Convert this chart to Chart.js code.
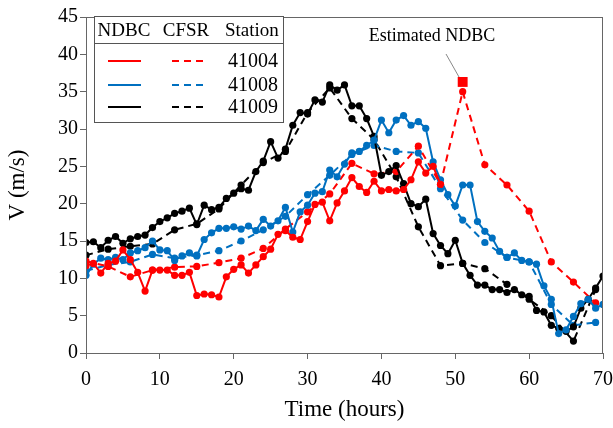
<!DOCTYPE html>
<html>
<head>
<meta charset="utf-8">
<script src="https://cdn.jsdelivr.net/npm/chart.js@4.4.1/dist/chart.umd.min.js"></script>
<style>
  html, body { margin: 0; padding: 0; background: #fff; }
</style>
</head>
<body>
<canvas id="windChart" width="613" height="428"></canvas>
<script>
// Horas de las series NDBC (horarias) y CFSR (cada 3 h)
const ndbcHours = [0, 1, 2, 3, 4, 5, 6, 7, 8, 9, 10, 11, 12, 13, 14, 15, 16, 17, 18, 19, 20,
  21, 22, 23, 24, 25, 26, 27, 28, 29, 30, 31, 32, 33, 34, 35, 36, 37, 38, 39, 40,
  41, 42, 43, 44, 45, 46, 47, 48, 49, 50, 51, 52, 53, 54, 55, 56, 57, 58, 59, 60,
  61, 62, 63, 64, 65, 66, 67, 68, 69, 70];
const cfsrHours = [0, 3, 6, 9, 12, 15, 18, 21, 24, 27, 30, 33, 36, 39, 42, 45, 48, 51, 54, 57, 60, 63, 66, 69];

// Velocidad del viento (m/s) - NDBC
const ndbc41004 = [11.7, 12.0, 10.7, 12.0, 12.3, 13.8, 12.5, 10.8, 8.3, 11.1, 11.1, 11.1, 10.4, 10.4, 10.8,
  7.7, 7.9, 7.8, 7.5, 10.2, 11.2, 11.8, 10.7, 11.8, 12.9, 13.9, 15.9, 16.4, 15.5, 15.2, 17.6,
  19.9, 20.2, 17.7, 20.1, 21.7, 23.5, 22.3, 21.5, 23.0, 21.7, 21.9, 21.7, 21.9, 23.2, 25.6, 24.1, 25.0, 22.6];
const ndbc41008 = [10.4, 11.9, 12.7, 12.5, 12.8, 12.5, 13.4, 13.7, 14.1, 15.0, 13.8, 13.7, 12.4, 13.0, 13.4,
  13.0, 15.2, 16.1, 16.7, 16.7, 16.9, 16.6, 17.0, 16.4, 17.9, 17.0, 17.7, 19.5, 16.2, 18.9, 19.8,
  21.4, 21.6, 24.5, 23.6, 25.3, 26.8, 27.0, 27.8, 28.5, 31.2, 29.5, 31.2, 31.8, 30.5, 31.0, 30.1,
  25.6, 23.2, 21.2, 19.7, 22.5, 22.5, 17.6, 16.3, 15.4, 13.6, 12.8, 13.4, 12.4, 12.2, 11.9, 9.0,
  7.2, 2.6, 3.1, 4.9, 6.6, 7.2, 6.0, 6.5];
const ndbc41009 = [14.8, 14.9, 14.1, 15.1, 15.6, 14.7, 15.3, 15.6, 15.8, 16.8, 17.6, 18.1, 18.7, 19.0, 19.4,
  17.2, 19.8, 19.2, 19.5, 20.7, 21.4, 22.0, 21.8, 24.3, 25.7, 28.3, 26.1, 27.3, 30.5, 32.2, 32.0,
  33.9, 33.6, 35.9, 35.2, 35.9, 33.1, 33.1, 31.4, 29.0, 23.8, 24.3, 25.1, 22.7, 20.0, 19.6, 20.6,
  16.0, 14.4, 13.3, 15.1, 12.0, 10.4, 9.1, 9.1, 8.5, 8.5, 8.1, 8.5, 7.8, 7.6, 5.7, 5.5,
  3.7, 3.3, 2.9, 3.5, 6.0, 7.2, 8.7, 10.3];

// Velocidad del viento (m/s) - CFSR
const cfsr41004 = [12.3, 11.6, 10.2, 11.1, 11.5, 11.6, 12.1, 12.7, 14.0, 16.6, 18.9, 21.3, 25.4, 24.0,
  24.3, 27.7, 22.6, 35.0, 25.2, 22.5, 19.0, 12.2, 9.5, 6.7];
const cfsr41008 = [11.0, 11.8, 12.2, 13.2, 12.7, 13.1, 13.7, 15.0, 16.5, 18.3, 21.2, 23.8, 26.6, 27.8,
  27.0, 26.8, 22.0, 17.8, 14.8, 12.8, 12.2, 6.5, 3.7, 4.1];
const cfsr41009 = [13.1, 13.9, 14.3, 14.6, 16.5, 17.3, 19.3, 22.5, 25.5, 27.0, 32.2, 35.5, 31.4, 28.6,
  23.6, 16.9, 11.7, 12.0, 11.3, 9.2, 7.2, 5.0, 1.6, 8.5];

// Valor NDBC estimado (cuadrado rojo)
const estimatedHour = [51];
const estimatedValue = [36.3];

const stations = ['41004', '41008', '41009'];
const colors = ['#ff0000', '#0070c0', '#000000'];

const toXY = (hours, vals) => vals.map((v, i) => ({ x: hours[i], y: v }));

function serie(hours, vals, color, dashed) {
  return {
    data: toXY(hours, vals),
    borderColor: color,
    backgroundColor: color,
    borderWidth: 2,
    borderDash: dashed ? [7, 5] : [],
    pointRadius: 3.6,
    pointBorderWidth: 0,
    pointBackgroundColor: color,
    tension: 0,
    fill: false
  };
}

const datasets = [
  serie(ndbcHours, ndbc41004, colors[0], false),
  serie(ndbcHours, ndbc41008, colors[1], false),
  serie(ndbcHours, ndbc41009, colors[2], false),
  serie(cfsrHours, cfsr41004, colors[0], true),
  serie(cfsrHours, cfsr41008, colors[1], true),
  serie(cfsrHours, cfsr41009, colors[2], true),
  {
    data: toXY(estimatedHour, estimatedValue),
    showLine: false,
    pointStyle: 'rect',
    pointRadius: 7,
    pointBorderWidth: 0,
    pointBackgroundColor: colors[0],
    borderColor: colors[0]
  }
];

const serif = '"Liberation Serif", "Times New Roman", serif';

// Marco, leyenda tipo tabla y anotación
const extras = {
  id: 'extras',
  afterDraw(chart) {
    const { ctx, chartArea: a } = chart;
    ctx.save();
    ctx.strokeStyle = '#666';
    ctx.lineWidth = 1;
    ctx.strokeRect(a.left + 0.5, a.top + 0.5, a.right - a.left - 1, a.bottom - a.top);

    // leyenda
    const bx = 94, by = 16, bw = 189, bh = 106;
    ctx.fillStyle = '#fff';
    ctx.fillRect(bx, by, bw, bh);
    ctx.strokeStyle = '#555';
    ctx.strokeRect(bx + 0.5, by + 0.5, bw, bh);
    ctx.beginPath();
    ctx.moveTo(bx, 43.5);
    ctx.lineTo(bx + bw, 43.5);
    ctx.stroke();

    ctx.fillStyle = '#000';
    ctx.font = '19px ' + serif;
    ctx.textBaseline = 'middle';
    ctx.textAlign = 'center';
    ctx.fillText('NDBC', 124, 31);
    ctx.fillText('CFSR', 186, 31);
    ctx.textAlign = 'left';
    ctx.fillText('Station', 225, 31);

    const rows = [61, 85, 107];
    ctx.font = '20px ' + serif;
    stations.forEach((s, i) => {
      ctx.strokeStyle = colors[i];
      ctx.lineWidth = 2;
      ctx.setLineDash([]);
      ctx.beginPath();
      ctx.moveTo(108, rows[i]);
      ctx.lineTo(141, rows[i]);
      ctx.stroke();
      ctx.setLineDash([7, 5]);
      ctx.beginPath();
      ctx.moveTo(172, rows[i]);
      ctx.lineTo(208, rows[i]);
      ctx.stroke();
      ctx.setLineDash([]);
      ctx.fillStyle = '#000';
      ctx.fillText(s, 228, rows[i] + 1);
    });

    // anotación "Estimated NDBC"
    ctx.font = '18px ' + serif;
    ctx.textAlign = 'center';
    ctx.fillText('Estimated NDBC', 432, 36);
    ctx.strokeStyle = '#888';
    ctx.lineWidth = 1;
    ctx.beginPath();
    ctx.moveTo(446, 54);
    ctx.lineTo(459, 77);
    ctx.stroke();
    ctx.restore();
  }
};

const ctx = document.getElementById('windChart').getContext('2d');
new Chart(ctx, {
  type: 'line',
  data: { datasets },
  plugins: [extras],
  options: {
    responsive: false,
    animation: false,
    layout: { padding: { left: 0, right: 10, top: 17, bottom: 0 } },
    plugins: { legend: { display: false }, tooltip: { enabled: false } },
    scales: {
      x: {
        type: 'linear',
        min: 0,
        max: 70,
        ticks: { stepSize: 10, color: '#000', font: { family: serif, size: 20 }, padding: 9 },
        grid: { drawOnChartArea: false, tickLength: 6, color: '#666' },
        border: { color: '#666' },
        title: { display: true, text: 'Time (hours)', color: '#000', font: { family: serif, size: 23 }, padding: { top: 0, bottom: 4 } },
        afterFit: s => { s.height = 75; s.paddingLeft = 0; s.paddingRight = 0; }
      },
      y: {
        min: 0,
        max: 45,
        ticks: { stepSize: 5, color: '#000', font: { family: serif, size: 20 }, padding: 2 },
        grid: { drawOnChartArea: false, tickLength: 6, color: '#666' },
        border: { color: '#666' },
        title: { display: true, text: 'V (m/s)', color: '#000', font: { family: serif, size: 23 }, padding: { top: 4, bottom: 0 } },
        afterFit: s => { s.width = 86; s.paddingTop = 0; s.paddingBottom = 0; }
      }
    }
  }
});
</script>
</body>
</html>
